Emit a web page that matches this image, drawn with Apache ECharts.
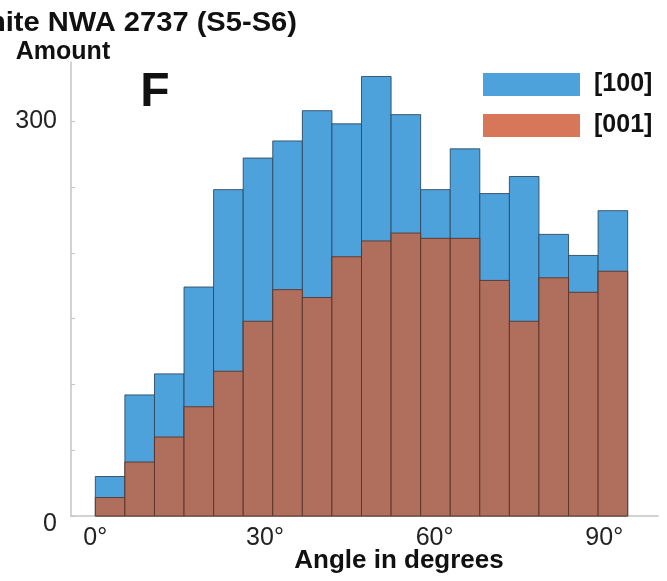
<!DOCTYPE html>
<html>
<head>
<meta charset="utf-8">
<script src="https://cdn.jsdelivr.net/npm/echarts@6/dist/echarts.min.js"></script>
<style>
  html, body { margin: 0; padding: 0; background: #fff; }
  #chart { width: 667px; height: 581px; }
</style>
</head>
<body>
<div id="chart"></div>
<script>
// bin edges in degrees (18 bins)
const binEdges = [0, 5.23, 10.46, 15.69, 20.92, 26.15, 31.38, 36.61, 41.84, 47.07,
  52.3, 57.53, 62.76, 67.99, 73.22, 78.45, 83.68, 88.91, 94.14];
// counts per bin
const counts100 = [30, 92, 108, 174, 248, 272, 285, 308, 298, 334, 305, 248, 279, 245, 258, 214, 198, 232];
const counts001 = [14, 41, 60, 83, 110, 148, 172, 166, 197, 209, 215, 211, 211, 179, 148, 181, 170, 186];
const xTickLabels = [0, 30, 60, 90];
const yTickMarks = [0, 50, 100, 150, 200, 250, 300];
const yTickLabels = [0, 300];

const FONT = '"Liberation Sans", Arial, Helvetica, sans-serif';
const blue = '#4ea2dc';
const brown = '#b06f5d';
const orangeLegend = '#d8765a';

const toBins = (counts) => counts.map((c, i) => [binEdges[i], binEdges[i + 1], c]);

const renderBar = (fill, stroke) => (params, api) => {
  const p0 = api.coord([api.value(0), api.value(2)]);
  const p1 = api.coord([api.value(1), 0]);
  return {
    type: 'rect',
    shape: { x: p0[0], y: p0[1], width: p1[0] - p0[0], height: p1[1] - p0[1] },
    style: { fill: fill, stroke: stroke, lineWidth: 0.9 }
  };
};

const chart = echarts.init(document.getElementById('chart'), null, { renderer: 'canvas' });

chart.setOption({
  backgroundColor: '#fff',
  animation: false,
  textStyle: { fontFamily: FONT },
  grid: { left: 71, right: 9, top: 62, bottom: 65, containLabel: false },
  legend: {
    orient: 'vertical',
    left: 478,
    top: 67,
    itemWidth: 97,
    itemHeight: 23,
    itemGap: 16,
    icon: 'rect',
    textStyle: { fontFamily: FONT, fontSize: 25, fontWeight: 'bold', color: '#111', padding: [0, 0, 0, 9] },
    data: [
      { name: '[100]', itemStyle: { color: blue, borderWidth: 0 } },
      { name: '[001]', itemStyle: { color: orangeLegend, borderWidth: 0 } }
    ]
  },
  xAxis: {
    type: 'value',
    min: -4.3,
    max: 99.5,
    axisLine: { show: true, onZero: false, lineStyle: { color: '#c4c4c4', width: 1.5 } },
    axisTick: { show: false },
    splitLine: { show: false },
    axisLabel: {
      customValues: xTickLabels,
      formatter: (v) => v + '°',
      fontFamily: FONT,
      fontSize: 25,
      color: '#222',
      margin: 10
    }
  },
  yAxis: {
    type: 'value',
    min: 0,
    max: 345,
    axisLine: { show: true, onZero: false, lineStyle: { color: '#c4c4c4', width: 1.5 } },
    axisTick: { show: true, inside: true, length: 4, customValues: yTickMarks, lineStyle: { color: '#c4c4c4' } },
    splitLine: { show: false },
    axisLabel: {
      customValues: yTickLabels,
      formatter: (v) => (v === 0 ? '{z|0}' : String(v)),
      fontFamily: FONT,
      fontSize: 25,
      color: '#222',
      margin: 14,
      rich: { z: { fontFamily: FONT, fontSize: 25, color: '#222', padding: [16, 0, 0, 0] } }
    }
  },
  series: [
    {
      name: '[100]',
      type: 'custom',
      renderItem: renderBar(blue, '#2f4a60'),
      itemStyle: { color: blue },
      encode: { x: [0, 1], y: 2 },
      data: toBins(counts100)
    },
    {
      name: '[001]',
      type: 'custom',
      renderItem: renderBar(brown, '#5a3328'),
      itemStyle: { color: orangeLegend },
      encode: { x: [0, 1], y: 2 },
      data: toBins(counts001)
    }
  ],
  graphic: [
    {
      type: 'text', x: 297, y: 23, scaleX: 1.04,
      style: { text: 'Chassignite NWA 2737 (S5-S6)', fontFamily: FONT, fontSize: 28, fontWeight: 'bold', fill: '#111', textAlign: 'right', textVerticalAlign: 'middle' }
    },
    {
      type: 'text', x: 63, y: 52,
      style: { text: 'Amount', fontFamily: FONT, fontSize: 25, fontWeight: 'bold', fill: '#111', textAlign: 'center', textVerticalAlign: 'middle' }
    },
    {
      type: 'text', x: 155, y: 93,
      style: { text: 'F', fontFamily: FONT, fontSize: 48, fontWeight: 'bold', fill: '#111', textAlign: 'center', textVerticalAlign: 'middle' }
    },
    {
      type: 'text', x: 399, y: 561,
      style: { text: 'Angle in degrees', fontFamily: FONT, fontSize: 26, fontWeight: 'bold', fill: '#111', textAlign: 'center', textVerticalAlign: 'middle' }
    }
  ]
});
</script>
</body>
</html>
